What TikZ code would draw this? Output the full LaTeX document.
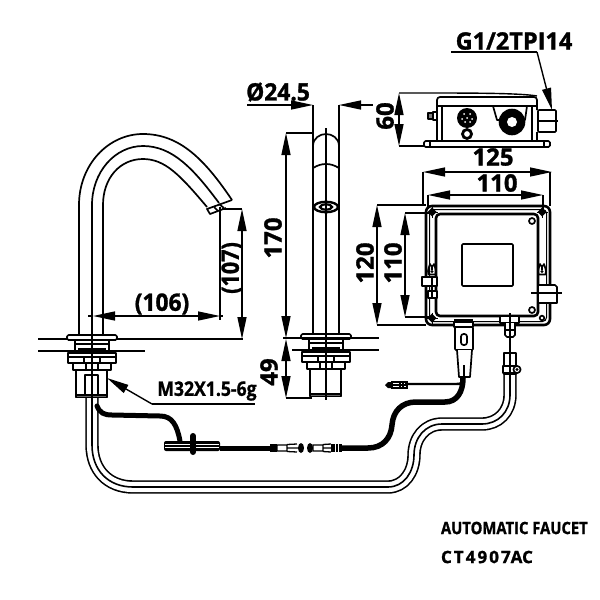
\documentclass[tikz,border=0pt]{standalone}
\usepackage{graphicx}
\usepackage{fontspec}
\setmainfont{Open Sans}[BoldFeatures={FakeBold=1.2}]
\usetikzlibrary{arrows.meta}
\newcommand{\lbl}[3]{\scalebox{#2}[1]{\fontsize{#1pt}{#1pt}\selectfont\bfseries #3}}
\tikzset{
  x=1pt,y=-1pt,
  obj/.style={line width=1.7pt,line join=round},
  thick obj/.style={line width=2.6pt,line join=round},
  dim/.style={line width=1.4pt},
  dimarrows/.style={line width=1.4pt,{Triangle[length=22pt,width=9pt]}-{Triangle[length=22pt,width=9pt]}},
  inarrow/.style={line width=1.4pt,-{Triangle[length=22pt,width=9pt]}},
  center line/.style={line width=1.3pt},
  txt/.style={inner sep=0pt,outer sep=0pt},
  hoseA/.style={line width=13.4pt,line join=round},
  hoseB/.style={line width=10.2pt,white,line join=round},
  hoseC/.style={line width=1.6pt,line join=round},
  basepart/.pic={
    \draw[obj,rounded corners=1.5pt,fill=white] (-25,0) rectangle (25,5);
    \draw[obj] (-17,5) -- (-17,18) (17,5) -- (17,18);
    \draw[obj] (-17,9) -- (17,9) (-14,14) -- (14,14);
    \draw[obj,fill=white] (-24,18) rectangle (24,28);
    \draw[obj] (-24,22) -- (24,22) (-8,22) -- (-8,28) (8,22) -- (8,28);
    \draw[obj,fill=white] (-19,28) rectangle (19,35);
    \draw[obj] (-6,28) -- (-6,35) (6,28) -- (6,35);
    \draw[obj,fill=white] (-16,35) rectangle (15,60);
    \draw[obj,fill=black!60] (-16,60) rectangle (15,62.5);
  },
  screw/.pic={
    \fill (-4.5,0) -- (0,-4.5) -- (4.5,0) -- (0,4.5) -- cycle;
    \draw[line width=1pt] (-5.5,0) -- (5.5,0) (0,-5.5) -- (0,5.5);
  },
  keyhole/.pic={
    \draw[obj] (-3.5,5.5) .. controls (-5,0) and (-2.5,-1) .. (-2,-5) arc[start angle=180,end angle=0,radius=2] .. controls (2.5,-1) and (5,0) .. (3.5,5.5) -- cycle;
    \fill (0,2.5) circle[radius=1.6];
    \draw[line width=1.2pt] (0,-4) -- (0,1);
  },
}
\begin{document}
\begin{tikzpicture}
\useasboundingbox (0,0) rectangle (600,600);
\fill[white] (0,0) rectangle (600,600);

% --- spout, side view ---
\draw[obj] (79,335) -- (79,205) .. controls (79,165) and (108,134) .. (143,134) .. controls (180,134) and (205,160) .. (232,200);
\draw[obj] (103,335) -- (103,205) .. controls (103,178) and (120,159) .. (143,159) .. controls (165,159) and (180,175) .. (207,207);
\draw[obj] (92,335) -- (92,205) .. controls (92,172) and (115,146) .. (143,146) .. controls (172,146) and (193,168) .. (219,203);
\draw[obj] (232,200) -- (207,209) -- (210,214) -- (226,208);
\draw[obj] (214,207) -- (218,211) (219,204) -- (224,208);

% --- long hose ---
\def\hosepath{(92,390) -- (92,445) .. controls (92,470) and (108,487) .. (133,487) -- (388,487) .. controls (404,487) and (414,472) .. (414,455) .. controls (414,438) and (425,424) .. (442,424) -- (482,424) .. controls (498,424) and (510,412) .. (510,395) -- (510,368)}
\draw[hoseA] \hosepath;
\draw[hoseB] \hosepath;
\draw[hoseC] \hosepath;

% --- left base ---
\draw[dim] (38,339) -- (243,339);
\draw[dim] (38,351) -- (145,351);
\pic at (92,335) {basepart};
\draw[obj] (85,375) rectangle (98,395);
\draw[center line] (92,300) -- (92,400);

% --- right tap, front view ---
\draw[obj] (313,105) -- (313,334) (339,105) -- (339,334);
\draw[obj] (313,146) .. controls (313,138) and (320,134) .. (326,134) .. controls (332,134) and (339,138) .. (339,146);
\draw[obj] (313,168) .. controls (318,165) and (322,164) .. (326,164) .. controls (330,164) and (334,165) .. (339,168);
\draw[line width=2.4pt] (326,207) ellipse[x radius=12,y radius=5.2];
\draw[line width=2.2pt] (326,207) ellipse[x radius=6,y radius=2.6];
\pic at (326,334) {basepart};
\draw[center line] (326,128) -- (326,400);
\draw[dim] (283,338) -- (379,338);
\draw[dim] (292,350) -- (379,350);

% --- cables ---
\draw[line width=5pt,line cap=round] (97,406) .. controls (100,413) and (104,415) .. (112,415) -- (160,416) .. controls (172,416) and (177,425) .. (180,441);
\fill[rounded corners=2pt] (164,441) rectangle (220,451);
\draw[white,line width=.5pt] (165,444) -- (219,444) (165,447.5) -- (219,447.5);
\draw[line width=6pt,line cap=round] (193,436) -- (193,452);
\draw[line width=5pt] (220,448) -- (272,448);
\fill (270,444) rectangle (277,452);
\draw[line width=1.3pt] (277,445) rectangle (287,451) (287,444.5) -- (297,444) (287,451.5) -- (297,452) (287,448) -- (298,448);
\fill (301,448) ellipse[x radius=3,y radius=5];
\fill (310,448) ellipse[x radius=3,y radius=5];
\draw[line width=1.3pt] (313,445) rectangle (323,451) (323,444.5) -- (331,444) (323,451.5) -- (331,452) (323,448) -- (331,448);
\fill (331,444) rectangle (342,452);
\draw[white,line width=.8pt] (335,444) -- (335,452) (338.5,444) -- (338.5,452);
\draw[line width=5.5pt] (340,448) -- (368,448) .. controls (383,448) and (391,438) .. (392,425) .. controls (393,411) and (402,402) .. (416,402) -- (445,402) .. controls (457,402) and (463,392) .. (463,378);
\draw[line width=2.4pt] (462,383) .. controls (460,384) and (458,384) .. (452,384) -- (405,384);
\draw[line width=1.3pt] (392,382) rectangle (407,388) (392,385) -- (407,385);
\fill (385,385) -- (388,382) -- (392,382) -- (392,388) -- (388,388) -- cycle;
\draw[line width=1.1pt] (400,382) -- (400,388) (403,382) -- (403,388);

% --- box, front view ---
\draw[thick obj,rounded corners=6pt] (426,206) rectangle (550,325);
\draw[line width=1pt,rounded corners=4pt] (429.5,209.5) rectangle (546.5,321.5);
\draw[thick obj,rounded corners=4pt] (436,214) rectangle (538,316);
\draw[obj,rounded corners=1pt] (462,244) rectangle (513,286);
\draw[obj] (532,221) circle[radius=3];
\draw[obj] (532,310) circle[radius=3];
\draw[obj] (542,318) circle[radius=2.3];
\pic at (432,212) {screw};
\pic at (542,212) {screw};
\pic at (432,318) {screw};
\pic at (432,269) {keyhole};
\pic at (542,269) {keyhole};
\draw[obj,fill=white] (422,277) rectangle (437,286);
\draw[obj,fill=white] (428,291) rectangle (437,298);
\draw[line width=1.1pt] (432,277) -- (432,298);
\draw[obj,fill=white] (538,285) -- (555,285) -- (557,287) -- (557,303) -- (538,303) -- cycle;
\draw[center line] (531,293) -- (562,293);
\draw[obj,fill=white] (500,316) rectangle (519,323);
\draw[obj,fill=white] (505,323) -- (505,335) -- (507,337) -- (513,337) -- (515,335) -- (515,323);
\draw[line width=1.1pt] (505,330) -- (515,330);
\draw[center line] (510,313) -- (510,353);
\draw[obj,fill=white] (504,353) rectangle (516,374);
\draw[obj,fill=white] (503,366) rectangle (516,373);
\draw[obj,fill=white] (517,369.5) circle[radius=3.6];
\fill (517,369.5) circle[radius=1.6];
\draw[center line] (510,353) -- (510,374);

% --- connector on box ---
\fill (454,319) rectangle (473,322);
\draw[obj,fill=white] (454,322) rectangle (473,327);
\draw[obj,fill=white,rounded corners=1pt] (455,327) rectangle (473,350);
\draw[obj,fill=white] (457,350) -- (459,377) -- (470,377) -- (472,350);
\draw[obj,rounded corners=2.5pt] (461,334) rectangle (467,345);
\draw[line width=1.5pt] (464,365) -- (464,377);

% --- box, top view ---
\draw[obj,rounded corners=1.5pt] (424,141) rectangle (550,147);
\draw[obj] (430,141) -- (430,147) (544,141) -- (544,147);
\draw[obj,rounded corners=3pt] (437,141) -- (437,97) -- (537,97) -- (537,110);
\draw[obj] (537,132) -- (537,141);
\draw[obj] (442,106) -- (442,141) (532,106) -- (532,141) (437,106) -- (537,106);
\draw[obj] (493,106) -- (497,120) -- (500,120) (527,106) -- (525,120) -- (522,120);
\fill (512,122) circle[radius=13.3];
\fill[white] (512,122) circle[radius=5];
\fill (467,118) circle[radius=10];
\foreach \a/\b in {464/114,470/114,467/118,462/119,472/119,465/122,470/122}{\fill[white] (\a,\b) circle[radius=1];}
\draw[line width=2.8pt] (467,134) circle[radius=4.5];
\draw[obj,fill=black!50] (428,113) rectangle (433,119);
\draw[obj] (433,112) rectangle (437,120);
\draw[obj,rounded corners=1pt] (538,110) rectangle (556,132);
\draw[center line] (538,121) -- (558,121);

% --- dimensions ---
\draw[dim] (399,93) -- (420,93) .. controls (470,93) and (520,93) .. (537,96);
\draw[dim] (399,146) -- (424,146);
\draw[dimarrows] (399,93) -- (399,146);
\draw[dim] (247,105) -- (291,105);
\draw[dim] (361,105) -- (373,105);
\draw[inarrow] (291,105) -- (313,105);
\draw[inarrow] (361,105) -- (339,105);
\draw[dim] (286,133) -- (313,133);
\draw[dimarrows] (286,133) -- (286,338);
\draw[dim] (286,398) -- (312,398);
\draw[inarrow] (286,360) -- (286,339);
\draw[inarrow] (286,376) -- (286,398);
\draw[dim] (286,360) -- (286,376);
\draw[dim] (88,316) -- (93,316) (220,316) -- (223,316);
\draw[dimarrows] (93,316) -- (220,316);
\draw[dim] (220,207) -- (220,320) (222,209) -- (242,209);
\draw[dimarrows] (242,209) -- (242,339);
\draw[dim] (152,404) -- (255,404);
\draw[inarrow] (152,404) -- (107,378);
\draw[dim] (451,52) -- (537,52);
\draw[inarrow] (537,52) -- (552,110);
\draw[dim] (423,172) -- (423,206) (550,172) -- (550,206);
\draw[dimarrows] (423,172) -- (552,172);
\draw[dim] (428,195) -- (428,209) (543,195) -- (543,209);
\draw[dimarrows] (428,195) -- (543,195);
\draw[dim] (377,205) -- (426,205) (377,325) -- (426,325);
\draw[dimarrows] (377,205) -- (377,325);
\draw[dim] (405,213) -- (430,213) (405,317) -- (430,317);
\draw[dimarrows] (405,213) -- (405,317);

% --- texts ---
\node[txt] (d106) at (162,304) {\lbl{24}{.95}{(106)}};
\node[txt,rotate=90] (d107) at (232,268) {\lbl{24}{.9}{(107)}};
\node[txt] (d245) at (278,92) {\lbl{24}{.95}{Ø24.5}};
\node[txt,rotate=90] (d170) at (273,238) {\lbl{24}{1}{170}};
\node[txt,rotate=90] (d49) at (269,372) {\lbl{24}{1}{49}};
\node[txt,rotate=90] (d60) at (385,116) {\lbl{24}{1}{60}};
\node[txt] (gthread) at (514,41) {\lbl{24}{.98}{G1/2TPI14}};
\node[txt] (d125) at (493,157) {\lbl{24}{1}{125}};
\node[txt] (d110a) at (497,183) {\lbl{24}{1}{110}};
\node[txt,rotate=90] (d120) at (365,263) {\lbl{24}{1}{120}};
\node[txt,rotate=90] (d110b) at (393,263) {\lbl{24}{1}{110}};
\node[txt] (mthread) at (207,391) {\lbl{20}{.88}{M32X1.5-6g}};
\node[txt,anchor=west] (model) at (441,528) {\lbl{17}{.87}{AUTOMATIC FAUCET}};
\node[txt,anchor=west] (code) at (441,557) {\lbl{17}{1}{\addfontfeature{LetterSpace=12}CT4907\addfontfeature{LetterSpace=0}AC}};
\end{tikzpicture}
\end{document}
